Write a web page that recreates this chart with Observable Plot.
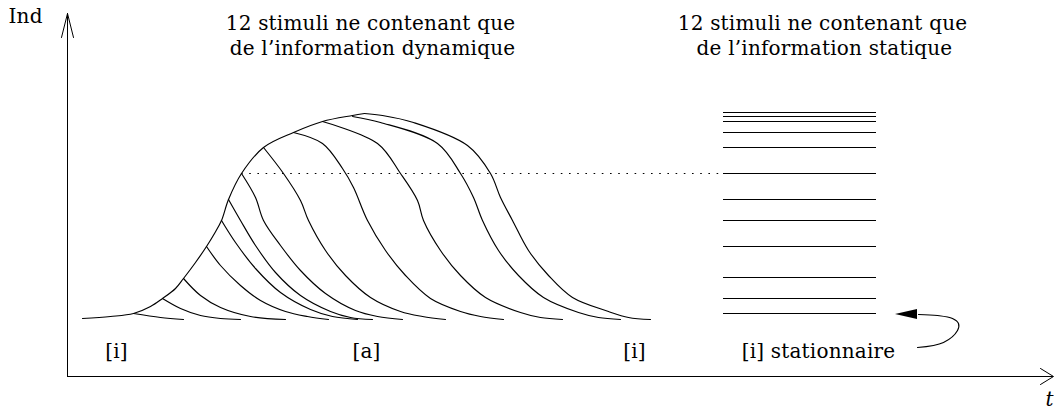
<!DOCTYPE html>
<html><head><meta charset="utf-8">
<script src="https://cdn.jsdelivr.net/npm/d3@7"></script>
<script src="https://cdn.jsdelivr.net/npm/@observablehq/plot@0.6"></script>
<style>
html,body{margin:0;padding:0;background:#fff;}
#chart svg text{letter-spacing:0.2px;}
</style></head><body><div id="chart"></div>
<script>
// Diagram units: t (time, horizontal) and Ind (index, vertical)
const envelope = [[15,58],[43,60],[66,63],[83,70],[95,78],[108,88],[116,98],[128,114],[139,130],[147,143],[154,156],[161,177],[174,203],[196,229],[226,244],[255,255],[285,261],[297,263]];

const decays = [
  [[66,63],[93,59],[116,57]],
  [[95,78],[113,68],[133,61],[153,58],[173,57]],
  [[116,98],[133,81],[153,69],[183,60],[218,57]],
  [[139,130],[153,111],[173,91],[193,76],[218,65],[240,60],[261,57]],
  [[154,156],[168,134],[188,108],[213,84],[243,67],[265,60],[290,57]],
  [[161,177],[173,156],[188,131],[208,104],[233,81],[263,65],[283,59],[305,57]],
  [[174,203],[188,179],[196,156],[213,131],[233,106],[258,83],[288,66],[310,60],[335,57]],
  [[196,229],[216,203],[233,176],[241,156],[258,126],[278,101],[303,79],[333,65],[355,60],[378,57]],
  [[226,244],[255,233],[275,208],[286,189],[300,156],[318,126],[338,101],[363,78],[393,65],[413,60],[436,57]],
  [[255,255],[310,233],[333,203],[350,176],[356,156],[373,126],[393,101],[418,79],[453,64],[473,59],[495,57]],
  [[285,260],[313,254],[370,233],[393,203],[406,179],[415,156],[431,126],[451,101],[476,79],[511,64],[531,59],[553,57]],
  [[297,263],[315,261],[346,254],[400,231],[423,203],[433,179],[445,156],[461,126],[481,101],[505,79],[541,65],[561,59],[583,57]]
];

const staticLevels = [264,260,255,244,229,203,177,156,130,99,78,63];
const staticSpan = [656, 809];
const dottedLevel = 203;
const dottedSpan = [174, 656];

const returnArrowPath = [[850,29],[876,34],[890,46],[891,53],[885,58],[870,61],[851,62]];
const returnArrowHead = [{t:828, lo:62, hi:62},{t:850, lo:57, hi:67}];

const yAxisArrow = [[-6,339],[0,363],[6,339]];
const xAxisArrow = [[973,8],[986,0],[973,-8]];
const axisTop = 363;
const axisRight = 986;

const titleLines = [
  {t:303, ind:347, text:"12 stimuli ne contenant que"},
  {t:305, ind:322, text:"de l\u2019information dynamique"},
  {t:755, ind:347, text:"12 stimuli ne contenant que"},
  {t:757, ind:322, text:"de l\u2019information statique"}
];
const vowelLabels = [
  {t:49, ind:19, text:"[i]"},
  {t:299, ind:19, text:"[a]"},
  {t:567, ind:19, text:"[i]"},
  {t:751, ind:19, text:"[i] stationnaire"}
];
const yAxisLabel = [{t:-59, ind:354, text:"Ind"}];
const xAxisLabel = [{t:982, ind:-29, text:"t"}];

const decayRows = decays.flatMap((pts, i) => pts.map(p => ({stimulus: i + 1, t: p[0], ind: p[1]})));

const serif = "DejaVu Serif";
const fs = 20;
const line = 1.15;
const chart = Plot.plot({
  width: 1054, height: 411,
  marginTop: 0, marginRight: 0, marginBottom: 0, marginLeft: 0,
  x: {domain: [-67, 987], axis: null},
  y: {domain: [-35, 376], axis: null},
  style: {background: "white", overflow: "visible", fontFamily: serif},
  marks: [
    Plot.ruleX([0], {y1: 0, y2: axisTop, stroke: "black", strokeWidth: 1}),
    Plot.ruleY([0], {x1: 0, x2: axisRight, stroke: "black", strokeWidth: 1}),
    Plot.line(yAxisArrow, {x: d => d[0], y: d => d[1], stroke: "black", strokeWidth: 1}),
    Plot.line(xAxisArrow, {x: d => d[0], y: d => d[1], stroke: "black", strokeWidth: 1}),
    Plot.line(envelope, {x: d => d[0], y: d => d[1], curve: "catmull-rom", stroke: "black", strokeWidth: line}),
    Plot.line(decayRows, {x: "t", y: "ind", z: "stimulus", curve: "catmull-rom", stroke: "black", strokeWidth: line}),
    Plot.ruleY([dottedLevel], {x1: dottedSpan[0], x2: dottedSpan[1], stroke: "black", strokeWidth: 1.1, strokeDasharray: "1.6,6.6"}),
    Plot.ruleY(staticLevels, {x1: staticSpan[0], x2: staticSpan[1], stroke: "black", strokeWidth: line}),
    Plot.line(returnArrowPath, {x: d => d[0], y: d => d[1], curve: "catmull-rom", stroke: "black", strokeWidth: line}),
    Plot.area(returnArrowHead, {x1: "t", y1: "lo", y2: "hi", fill: "black"}),
    Plot.text(titleLines, {x: "t", y: "ind", text: "text", lineAnchor: "bottom", textAnchor: "middle", fontFamily: serif, fontSize: fs, fill: "black"}),
    Plot.text(vowelLabels, {x: "t", y: "ind", text: "text", lineAnchor: "bottom", textAnchor: "middle", fontFamily: serif, fontSize: fs, fill: "black"}),
    Plot.text(yAxisLabel, {x: "t", y: "ind", text: "text", lineAnchor: "bottom", textAnchor: "start", fontFamily: serif, fontSize: fs, fill: "black"}),
    Plot.text(xAxisLabel, {x: "t", y: "ind", text: "text", lineAnchor: "bottom", textAnchor: "middle", fontStyle: "italic", fontFamily: serif, fontSize: fs, fill: "black"})
  ]
});
document.getElementById("chart").appendChild(chart);
</script></body></html>
